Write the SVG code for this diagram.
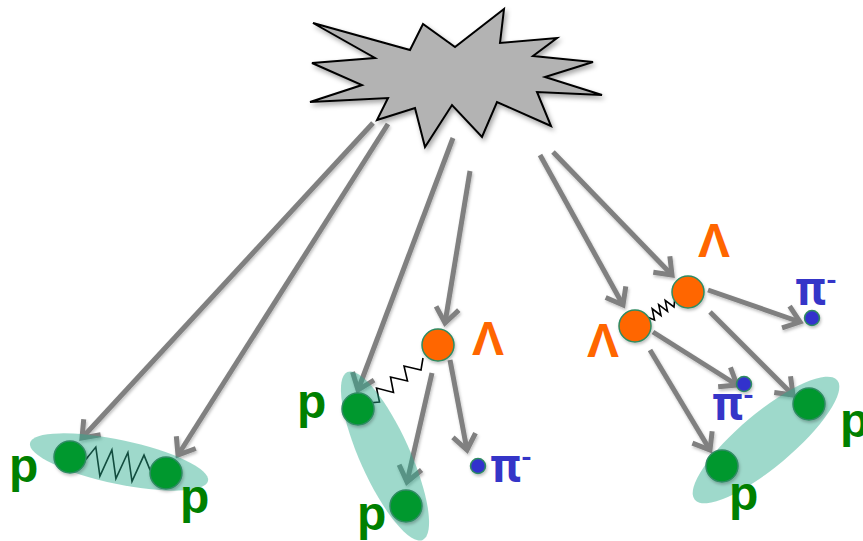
<svg xmlns="http://www.w3.org/2000/svg" width="863" height="541" viewBox="0 0 863 541">
  <defs>
    <style>
      .arrow { stroke: #808080; stroke-width: 5; fill: none; marker-end: url(#head); }
      .spring { stroke: #000; stroke-width: 1.6; fill: none; stroke-linejoin: miter; }
      .cluster { fill: #28aa8c; fill-opacity: 0.45; }
      .proton { fill: #00982f; stroke: #2e8b62; stroke-width: 1.5; }
      .lambda { fill: #ff6600; stroke: #2e8b62; stroke-width: 1.5; }
      .pion { fill: #3333cc; stroke: #2e8b62; stroke-width: 1.5; }
      .lbl { font-family: "Liberation Sans", Arial, sans-serif; font-weight: bold; font-size: 48px; }
      .lp { fill: #008000; }
      .lL { fill: #ff6600; }
      .lpi { fill: #3535c8; font-family: Roboto, "Liberation Sans", sans-serif; }
      .sup { font-size: 28px; }
    </style>
    <marker id="head" markerUnits="userSpaceOnUse" markerWidth="40" markerHeight="40" refX="0" refY="0" viewBox="-20 -20 40 40" orient="auto" overflow="visible">
      <path d="M -15 -11.5 L 0 0 L -15 11.5" fill="none" stroke="#808080" stroke-width="5" stroke-linejoin="miter"/>
    </marker>
    <filter id="shadow" x="-20%" y="-20%" width="150%" height="150%">
      <feDropShadow dx="2" dy="3" stdDeviation="2.5" flood-color="#000" flood-opacity="0.35"/>
    </filter>
    <filter id="soft" x="-30%" y="-30%" width="160%" height="160%">
      <feDropShadow dx="1" dy="2" stdDeviation="1.5" flood-color="#000" flood-opacity="0.25"/>
    </filter>
  </defs>

  <!-- tracks and springs -->
  <g id="connectors">
    <g filter="url(#soft)">
      <line class="arrow" x1="373" y1="123" x2="82" y2="438"/>
      <line class="arrow" x1="388" y1="124" x2="178" y2="455"/>
      <line class="arrow" x1="453" y1="138" x2="358" y2="390"/>
      <line class="arrow" x1="470" y1="171" x2="445" y2="323"/>
      <line class="arrow" x1="540" y1="155" x2="623" y2="305"/>
      <line class="arrow" x1="553" y1="152" x2="672" y2="275"/>
      <line class="arrow" x1="432" y1="373" x2="407" y2="482"/>
      <line class="arrow" x1="450" y1="360" x2="467" y2="450"/>
      <line class="arrow" x1="708" y1="290" x2="800" y2="322"/>
      <line class="arrow" x1="710" y1="312" x2="793" y2="395"/>
      <line class="arrow" x1="653" y1="332" x2="737" y2="385"/>
      <line class="arrow" x1="650" y1="350" x2="710" y2="450"/>
    </g>
    <polyline class="spring" points="85.8,459.6 95.8,447.1 99.9,476.1 111.9,449.8 115.9,478.7 127.9,452.5 132,481.4 144,455.1 150.2,470.4"/>
    <polyline class="spring" points="423,358 421,370 404,366 407.5,381 390.5,377 393.5,392.5 376.5,388 379.5,402 368,403"/>
    <polyline class="spring" points="648.4,317.4 654.5,320 652.2,308.8 661,315.5 658.7,304.6 667.5,311.3 665.2,300.4 674,307 674.6,300.6"/>
  </g>

  <!-- collision burst -->
  <g id="burst">
    <polygon points="313,23 410,50 423,24 455,47 504,9 500,43 557,38 533,56 593,62 545,77 602,95 537,92 551,126 497,102 482,137 452,105 425,147 415,108 377,120 388,98 310,102 362,85 312,63 375,58" fill="#b3b3b3" stroke="#000" stroke-width="2" stroke-linejoin="miter" filter="url(#shadow)"/>
  </g>

  <!-- correlated pairs -->
  <g id="pair-pp">
    <ellipse class="cluster" cx="119" cy="462" rx="91" ry="22" transform="rotate(12 119 462)"/>
  </g>
  <g id="pair-pLambda">
    <ellipse class="cluster" cx="385" cy="456" rx="92" ry="25" transform="rotate(65.8 385 456)"/>
  </g>
  <g id="pair-LambdaLambda">
    <ellipse class="cluster" cx="766" cy="440" rx="93" ry="27" transform="rotate(-40 766 440)"/>
  </g>

  <!-- particles -->
  <g id="p-left-a" filter="url(#soft)">
    <circle class="proton" cx="70" cy="457" r="16"/>
  </g>
  <g id="p-left-b" filter="url(#soft)">
    <circle class="proton" cx="166" cy="473" r="16"/>
  </g>
  <g id="p-mid-a" filter="url(#soft)">
    <circle class="proton" cx="358" cy="409" r="16"/>
  </g>
  <g id="p-mid-b" filter="url(#soft)">
    <circle class="proton" cx="406" cy="506" r="16"/>
  </g>
  <g id="lambda-mid" filter="url(#soft)">
    <circle class="lambda" cx="438" cy="345" r="16"/>
  </g>
  <g id="pi-mid" filter="url(#soft)">
    <circle class="pion" cx="478" cy="466" r="7.5"/>
  </g>
  <g id="lambda-right-a" filter="url(#soft)">
    <circle class="lambda" cx="688" cy="292" r="16"/>
  </g>
  <g id="lambda-right-b" filter="url(#soft)">
    <circle class="lambda" cx="635" cy="326" r="16"/>
  </g>
  <g id="pi-right-a" filter="url(#soft)">
    <circle class="pion" cx="812" cy="318" r="7.5"/>
  </g>
  <g id="pi-right-b" filter="url(#soft)">
    <circle class="pion" cx="744" cy="384" r="7.5"/>
  </g>
  <g id="p-right-a" filter="url(#soft)">
    <circle class="proton" cx="809" cy="404" r="16"/>
  </g>
  <g id="p-right-b" filter="url(#soft)">
    <circle class="proton" cx="722" cy="466" r="16"/>
  </g>

  <!-- labels -->
  <g id="labels" class="lbl">
    <text class="lp" x="9" y="482">p</text>
    <text class="lp" x="180" y="513">p</text>
    <text class="lp" x="297" y="418">p</text>
    <text class="lp" x="357" y="530">p</text>
    <text class="lp" x="729" y="510">p</text>
    <text class="lp" x="840" y="437">p</text>
    <text class="lL" x="472" y="355">Λ</text>
    <text class="lL" x="698" y="257">Λ</text>
    <text class="lL" x="587" y="357">Λ</text>
    <text class="lpi" x="490" y="482">π<tspan class="sup" dy="-15">-</tspan></text>
    <text class="lpi" x="795" y="305">π<tspan class="sup" dy="-15">-</tspan></text>
    <text class="lpi" x="712" y="420">π<tspan class="sup" dy="-15">-</tspan></text>
  </g>
</svg>
